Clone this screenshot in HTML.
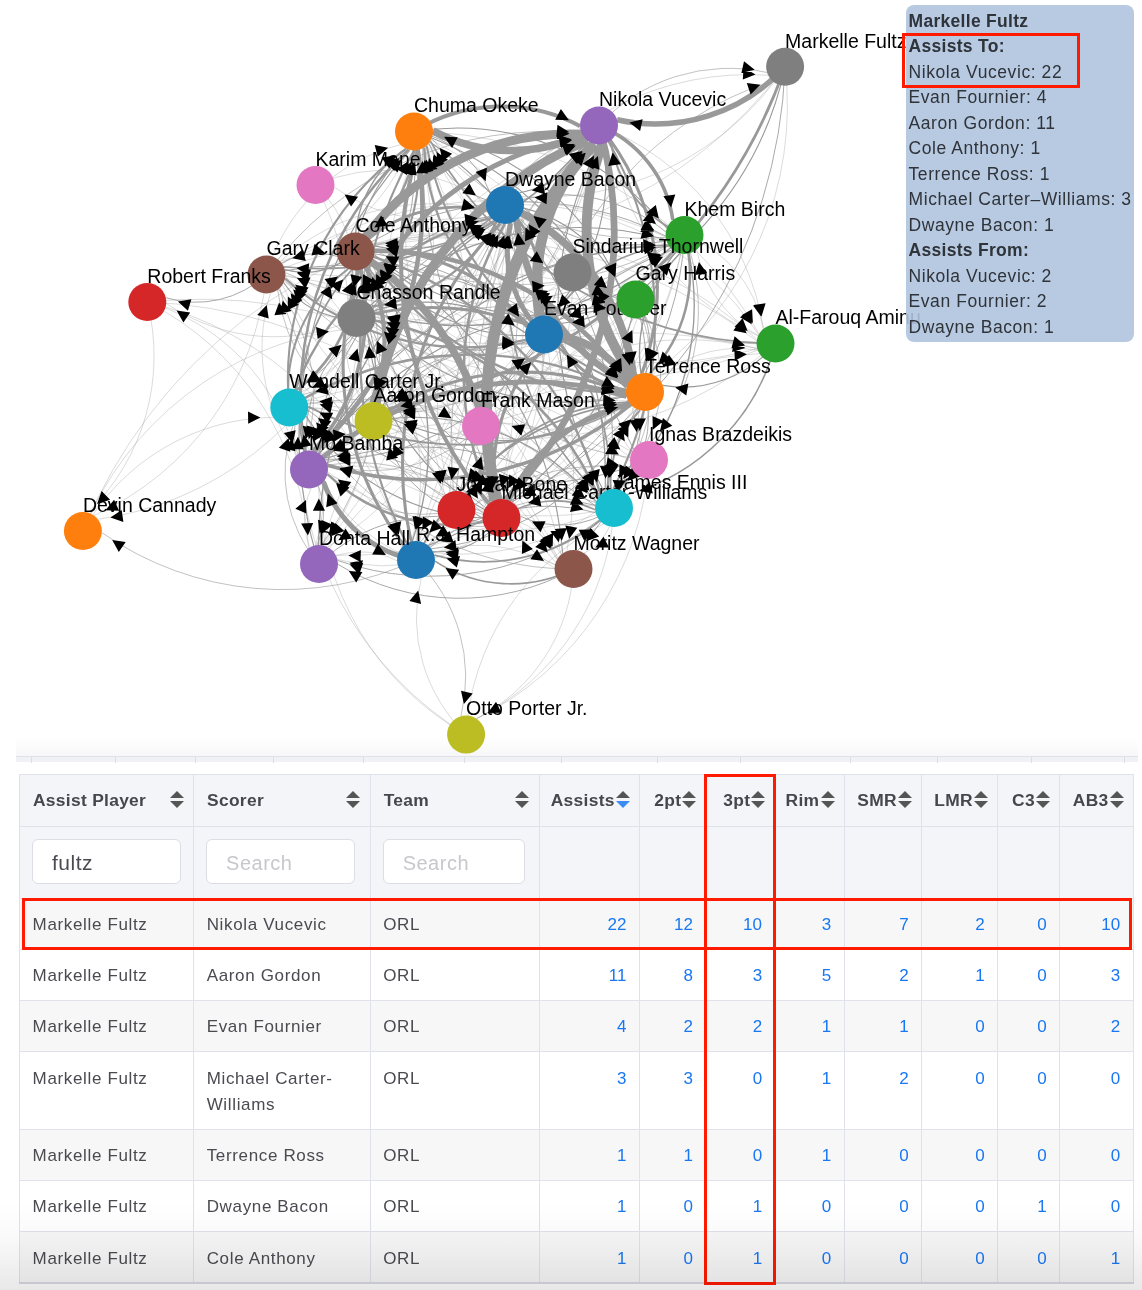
<!DOCTYPE html>
<html lang="en">
<head>
<meta charset="utf-8">
<title>Assist Network</title>
<style>
html,body{margin:0;padding:0;background:#fff;}
body{width:1142px;height:1290px;position:relative;overflow:hidden;font-family:"Liberation Sans",sans-serif;}
#graph{position:absolute;left:0;top:0;width:1142px;height:772px;overflow:hidden;}
#graph text{font-family:"Liberation Sans",sans-serif;font-size:19.5px;fill:#000;}
.lk{fill:none;stroke:#999;}
.ar{fill:#000;}
#tip{position:absolute;left:906px;top:5px;width:228px;height:337px;box-sizing:border-box;background:rgba(176,196,222,0.9);border-radius:8px;padding:3.8px 0 0 2.5px;font-size:17.5px;line-height:25.5px;color:#2f333a;letter-spacing:0.58px;white-space:nowrap;}
#tip b{letter-spacing:0.3px;font-weight:700;}
#tip div{height:25.5px;}
.red{position:absolute;border:3px solid #ff1a00;box-sizing:border-box;pointer-events:none;}
#strip{position:absolute;left:16px;top:738px;width:1122px;height:24px;background:linear-gradient(#fff 0,#f7f7f9 17.5px,#e1e2e8 17.5px,#e1e2e8 18.5px,#f0f1f5 18.5px);}
#strip i{position:absolute;margin-left:-1px;top:18.5px;width:1px;height:6px;background:#dcdde5;}
table{position:absolute;left:19px;top:774px;border-collapse:collapse;table-layout:fixed;width:1115px;font-size:17px;color:#4a4a50;letter-spacing:0.65px;}
td,th{border:1px solid #dfe2ea;padding:0;box-sizing:border-box;overflow:hidden;}
th{background:#f3f5f9;height:52px;font-weight:700;font-size:17.4px;letter-spacing:0.3px;color:#46464c;text-align:left;position:relative;padding-left:13px;}
th.n{text-align:right;padding-right:24.5px;padding-left:0;}
tr.f td{background:#f3f5f9;height:71.5px;padding-left:13px;}
tr.r td{padding:13.4px 0 10.9px 12.6px;vertical-align:top;line-height:26px;}
tr.r td.n{text-align:right;padding-right:12.5px;padding-left:0;letter-spacing:0.2px;color:#1877f2;}
tr.o td{background:#f7f7f8;}
tbody tr:last-child td{border-bottom:2px solid #d8d9e1;}
.si{position:absolute;right:9.3px;top:16px;width:14px;height:17px;}
.inp{position:relative;left:-1px;top:-1px;width:149px;height:45px;box-sizing:border-box;border:1px solid #dcdde5;border-radius:6px;background:#fff;font-size:21px;line-height:46px;padding-left:19px;color:#4a4a50;letter-spacing:0.5px;}
.inp.p{color:#c8c8cc;font-size:20px;}
#shade{position:absolute;left:0;top:1200px;width:1142px;height:90px;background:linear-gradient(rgba(0,0,0,0),rgba(0,0,0,0.02) 40%,rgba(0,0,0,0.09));pointer-events:none;}
</style>
</head>
<body>
<div id="strip"><i style="left:16px"></i><i style="left:100px"></i><i style="left:180px"></i><i style="left:258px"></i><i style="left:348px"></i><i style="left:449px"></i><i style="left:546px"></i><i style="left:642px"></i><i style="left:725px"></i><i style="left:835px"></i><i style="left:922px"></i><i style="left:1016px"></i><i style="left:1109px"></i></div>
<svg id="graph" width="1142" height="772" viewBox="0 0 1142 772">
<g>
<path class="lk" d="M373.5,421.0A352.7,352.7 0 0,1 587.5,140.6" stroke-width="8.94"/>
<path class="lk" d="M645.0,392.0A251.4,251.4 0 0,1 602.2,144.2" stroke-width="9.92"/>
<path class="lk" d="M355.5,251.5A255.2,255.2 0 0,1 582.1,134.2" stroke-width="8.94"/>
<path class="lk" d="M414.0,131.5A166.1,166.1 0 0,1 580.0,126.1" stroke-width="4.04"/>
<path class="lk" d="M684.5,235.0A119.9,119.9 0 0,1 610.7,140.5" stroke-width="1.83"/>
<path class="lk" d="M544.0,334.5A197.1,197.1 0 0,1 594.2,143.9" stroke-width="10.41"/>
<path class="lk" d="M614.0,508.0A363.8,363.8 0 0,1 599.7,144.5" stroke-width="1.10"/>
<path class="lk" d="M501.5,518.0A385.4,385.4 0 0,1 594.4,143.9" stroke-width="11.39"/>
<path class="lk" d="M505.0,205.0A104.1,104.1 0 0,1 584.5,137.8" stroke-width="0.61"/>
<path class="lk" d="M456.5,510.0A391.1,391.1 0 0,1 592.4,143.3" stroke-width="0.61"/>
<path class="lk" d="M481.0,426.0A303.8,303.8 0 0,1 592.1,143.2" stroke-width="0.61"/>
<path class="lk" d="M266.5,274.5A345.4,345.4 0 0,1 581.7,133.3" stroke-width="0.61"/>
<path class="lk" d="M309.0,469.5A430.9,430.9 0 0,1 586.8,140.0" stroke-width="0.36"/>
<path class="lk" d="M775.5,343.5A261.5,261.5 0 0,1 611.0,140.3" stroke-width="0.36"/>
<path class="lk" d="M356.5,318.0A290.6,290.6 0 0,1 584.1,137.3" stroke-width="5.02"/>
<path class="lk" d="M645.0,392.0A97.2,97.2 0 0,1 560.5,343.9" stroke-width="3.06"/>
<path class="lk" d="M501.5,518.0A169.4,169.4 0 0,1 539.7,353.0" stroke-width="3.06"/>
<path class="lk" d="M355.5,251.5A187.0,187.0 0 0,1 526.6,326.8" stroke-width="3.06"/>
<path class="lk" d="M505.0,205.0A116.2,116.2 0 0,1 538.5,316.3" stroke-width="2.81"/>
<path class="lk" d="M356.5,318.0A169.2,169.2 0 0,1 525.1,332.8" stroke-width="1.35"/>
<path class="lk" d="M599.0,125.5A197.1,197.1 0 0,1 548.8,316.1" stroke-width="1.10"/>
<path class="lk" d="M684.5,235.0A153.2,153.2 0 0,1 559.5,323.5" stroke-width="1.10"/>
<path class="lk" d="M373.5,421.0A172.2,172.2 0 0,1 527.1,343.1" stroke-width="0.85"/>
<path class="lk" d="M355.5,251.5A151.5,151.5 0 0,1 371.5,402.1" stroke-width="4.29"/>
<path class="lk" d="M645.0,392.0A254.0,254.0 0 0,1 392.4,419.0" stroke-width="1.35"/>
<path class="lk" d="M356.5,318.0A85.4,85.4 0 0,1 370.4,402.3" stroke-width="1.35"/>
<path class="lk" d="M309.0,469.5A61.7,61.7 0 0,1 358.3,432.4" stroke-width="1.10"/>
<path class="lk" d="M456.5,510.0A102.7,102.7 0 0,1 386.5,434.9" stroke-width="0.85"/>
<path class="lk" d="M501.5,518.0A141.6,141.6 0 0,1 388.6,432.5" stroke-width="0.61"/>
<path class="lk" d="M505.0,205.0A233.9,233.9 0 0,1 383.4,404.8" stroke-width="0.61"/>
<path class="lk" d="M544.0,334.5A172.2,172.2 0 0,1 390.4,412.4" stroke-width="0.61"/>
<path class="lk" d="M645.0,392.0A302.8,302.8 0 0,1 372.6,259.8" stroke-width="2.33"/>
<path class="lk" d="M414.0,131.5A114.5,114.5 0 0,1 363.8,234.4" stroke-width="2.33"/>
<path class="lk" d="M505.0,205.0A137.6,137.6 0 0,1 373.6,245.9" stroke-width="1.35"/>
<path class="lk" d="M544.0,334.5A187.0,187.0 0 0,1 372.9,259.2" stroke-width="1.10"/>
<path class="lk" d="M635.5,299.5A265.1,265.1 0 0,1 374.2,254.7" stroke-width="1.10"/>
<path class="lk" d="M501.5,518.0A284.9,284.9 0 0,1 364.6,268.2" stroke-width="0.85"/>
<path class="lk" d="M266.5,274.5A72.9,72.9 0 0,1 337.1,256.3" stroke-width="0.85"/>
<path class="lk" d="M309.0,469.5A203.9,203.9 0 0,1 351.5,270.1" stroke-width="1.59"/>
<path class="lk" d="M416.0,560.0A295.4,295.4 0 0,1 359.2,270.1" stroke-width="3.06"/>
<path class="lk" d="M684.5,235.0A310.4,310.4 0 0,1 374.5,250.5" stroke-width="0.61"/>
<path class="lk" d="M614.0,508.0A345.2,345.2 0 0,1 369.0,264.9" stroke-width="0.61"/>
<path class="lk" d="M649.0,460.0A341.0,341.0 0 0,1 371.0,262.5" stroke-width="0.61"/>
<path class="lk" d="M775.5,343.5A411.0,411.0 0 0,1 374.1,255.6" stroke-width="0.36"/>
<path class="lk" d="M481.0,426.0A195.9,195.9 0 0,1 366.6,266.9" stroke-width="0.36"/>
<path class="lk" d="M373.5,421.0A151.5,151.5 0 0,1 357.5,270.4" stroke-width="0.36"/>
<path class="lk" d="M599.0,125.5A255.2,255.2 0 0,1 372.4,242.8" stroke-width="0.36"/>
<path class="lk" d="M355.5,251.5A284.9,284.9 0 0,1 492.4,501.3" stroke-width="7.47"/>
<path class="lk" d="M599.0,125.5A385.4,385.4 0 0,1 506.1,499.6" stroke-width="6.74"/>
<path class="lk" d="M684.5,235.0A318.0,318.0 0 0,1 511.8,502.0" stroke-width="0.85"/>
<path class="lk" d="M614.0,508.0A93.9,93.9 0 0,1 520.4,516.3" stroke-width="0.85"/>
<path class="lk" d="M573.5,569.0A69.2,69.2 0 0,1 517.0,529.0" stroke-width="0.61"/>
<path class="lk" d="M356.5,318.0A228.0,228.0 0 0,1 490.3,502.6" stroke-width="0.61"/>
<path class="lk" d="M645.0,392.0A172.0,172.0 0 0,1 515.8,505.5" stroke-width="0.61"/>
<path class="lk" d="M373.5,421.0A141.6,141.6 0 0,1 486.4,506.5" stroke-width="0.61"/>
<path class="lk" d="M505.0,205.0A294.0,294.0 0 0,1 501.7,499.0" stroke-width="0.36"/>
<path class="lk" d="M414.0,131.5A377.3,377.3 0 0,1 497.3,499.5" stroke-width="0.36"/>
<path class="lk" d="M289.3,407.5A220.2,220.2 0 0,1 484.6,509.2" stroke-width="0.36"/>
<path class="lk" d="M544.0,334.5A169.4,169.4 0 0,1 505.8,499.5" stroke-width="0.36"/>
<path class="lk" d="M505.0,205.0A214.6,214.6 0 0,1 633.6,376.8" stroke-width="7.47"/>
<path class="lk" d="M309.0,469.5A325.8,325.8 0 0,1 626.5,396.3" stroke-width="5.02"/>
<path class="lk" d="M356.5,318.0A278.8,278.8 0 0,1 626.6,387.3" stroke-width="3.06"/>
<path class="lk" d="M373.5,421.0A254.0,254.0 0 0,1 626.1,394.0" stroke-width="3.06"/>
<path class="lk" d="M544.0,334.5A97.2,97.2 0 0,1 628.5,382.6" stroke-width="7.47"/>
<path class="lk" d="M684.5,235.0A142.9,142.9 0 0,1 649.6,373.6" stroke-width="2.57"/>
<path class="lk" d="M456.5,510.0A203.4,203.4 0 0,1 628.9,402.1" stroke-width="1.83"/>
<path class="lk" d="M614.0,508.0A101.1,101.1 0 0,1 640.1,410.4" stroke-width="1.83"/>
<path class="lk" d="M416.0,560.0A265.0,265.0 0 0,1 629.7,403.2" stroke-width="1.83"/>
<path class="lk" d="M355.5,251.5A302.8,302.8 0 0,1 627.9,383.7" stroke-width="4.53"/>
<path class="lk" d="M599.0,125.5A251.4,251.4 0 0,1 641.8,373.3" stroke-width="3.06"/>
<path class="lk" d="M775.5,343.5A120.2,120.2 0 0,1 662.8,385.4" stroke-width="1.10"/>
<path class="lk" d="M414.0,131.5A329.2,329.2 0 0,1 632.4,377.8" stroke-width="1.10"/>
<path class="lk" d="M501.5,518.0A172.0,172.0 0 0,1 630.7,404.5" stroke-width="5.02"/>
<path class="lk" d="M635.5,299.5A74.0,74.0 0 0,1 643.1,373.1" stroke-width="0.85"/>
<path class="lk" d="M266.5,274.5A377.3,377.3 0 0,1 626.9,386.4" stroke-width="0.85"/>
<path class="lk" d="M481.0,426.0A148.5,148.5 0 0,1 626.4,395.9" stroke-width="0.36"/>
<path class="lk" d="M319.0,564.0A349.6,349.6 0 0,1 628.2,400.9" stroke-width="0.36"/>
<path class="lk" d="M645.0,392.0A214.6,214.6 0 0,1 516.4,220.2" stroke-width="6.74"/>
<path class="lk" d="M544.0,334.5A116.2,116.2 0 0,1 510.5,223.2" stroke-width="5.02"/>
<path class="lk" d="M355.5,251.5A137.6,137.6 0 0,1 486.9,210.6" stroke-width="2.81"/>
<path class="lk" d="M501.5,518.0A294.0,294.0 0 0,1 504.8,224.0" stroke-width="2.57"/>
<path class="lk" d="M614.0,508.0A303.0,303.0 0 0,1 511.4,222.9" stroke-width="1.59"/>
<path class="lk" d="M373.5,421.0A233.9,233.9 0 0,1 495.1,221.2" stroke-width="1.35"/>
<path class="lk" d="M599.0,125.5A104.1,104.1 0 0,1 519.5,192.7" stroke-width="1.10"/>
<path class="lk" d="M309.0,469.5A310.2,310.2 0 0,1 493.7,220.3" stroke-width="0.85"/>
<path class="lk" d="M684.5,235.0A163.0,163.0 0 0,1 523.7,208.1" stroke-width="0.85"/>
<path class="lk" d="M414.0,131.5A98.0,98.0 0 0,1 490.2,193.1" stroke-width="0.85"/>
<path class="lk" d="M356.5,318.0A167.6,167.6 0 0,1 489.9,216.5" stroke-width="0.85"/>
<path class="lk" d="M416.0,560.0A347.0,347.0 0 0,1 500.4,223.4" stroke-width="3.06"/>
<path class="lk" d="M573.5,569.0A351.4,351.4 0 0,1 508.5,223.7" stroke-width="0.36"/>
<path class="lk" d="M481.0,426.0A203.3,203.3 0 0,1 502.9,223.9" stroke-width="0.36"/>
<path class="lk" d="M775.5,343.5A284.9,284.9 0 0,1 521.9,213.7" stroke-width="0.36"/>
<path class="lk" d="M635.5,299.5A142.1,142.1 0 0,1 520.4,216.1" stroke-width="0.36"/>
<path class="lk" d="M456.5,510.0A289.8,289.8 0 0,1 502.0,223.8" stroke-width="0.36"/>
<path class="lk" d="M266.5,274.5A229.4,229.4 0 0,1 486.8,210.3" stroke-width="0.36"/>
<path class="lk" d="M289.3,407.5A276.9,276.9 0 0,1 491.1,218.0" stroke-width="2.33"/>
<path class="lk" d="M319.0,564.0A385.3,385.3 0 0,1 496.3,221.9" stroke-width="1.35"/>
<path class="lk" d="M599.0,125.5A166.1,166.1 0 0,1 433.0,130.9" stroke-width="7.47"/>
<path class="lk" d="M501.5,518.0A377.3,377.3 0 0,1 418.2,150.0" stroke-width="4.04"/>
<path class="lk" d="M544.0,334.5A222.1,222.1 0 0,1 424.2,147.5" stroke-width="2.33"/>
<path class="lk" d="M645.0,392.0A329.2,329.2 0 0,1 426.6,145.7" stroke-width="2.08"/>
<path class="lk" d="M775.5,343.5A400.1,400.1 0 0,1 430.4,141.1" stroke-width="1.83"/>
<path class="lk" d="M355.5,251.5A114.5,114.5 0 0,1 405.7,148.6" stroke-width="1.35"/>
<path class="lk" d="M356.5,318.0A176.2,176.2 0 0,1 408.4,149.7" stroke-width="1.10"/>
<path class="lk" d="M614.0,508.0A407.3,407.3 0 0,1 422.9,148.3" stroke-width="0.85"/>
<path class="lk" d="M319.0,564.0A423.8,423.8 0 0,1 409.9,150.1" stroke-width="1.10"/>
<path class="lk" d="M505.0,205.0A98.0,98.0 0 0,1 428.8,143.4" stroke-width="0.85"/>
<path class="lk" d="M309.0,469.5A334.9,334.9 0 0,1 408.4,149.6" stroke-width="2.57"/>
<path class="lk" d="M684.5,235.0A270.6,270.6 0 0,1 431.7,138.3" stroke-width="0.61"/>
<path class="lk" d="M416.0,560.0A409.5,409.5 0 0,1 414.1,150.5" stroke-width="2.33"/>
<path class="lk" d="M635.5,299.5A259.0,259.0 0 0,1 429.1,143.0" stroke-width="0.36"/>
<path class="lk" d="M456.5,510.0A361.9,361.9 0 0,1 416.1,150.4" stroke-width="0.36"/>
<path class="lk" d="M599.0,125.5A119.9,119.9 0 0,1 672.8,220.0" stroke-width="3.55"/>
<path class="lk" d="M544.0,334.5A153.2,153.2 0 0,1 669.0,246.0" stroke-width="1.59"/>
<path class="lk" d="M645.0,392.0A142.9,142.9 0 0,1 679.9,253.4" stroke-width="1.35"/>
<path class="lk" d="M373.5,421.0A343.4,343.4 0 0,1 668.2,244.8" stroke-width="1.10"/>
<path class="lk" d="M414.0,131.5A270.6,270.6 0 0,1 666.8,228.2" stroke-width="1.10"/>
<path class="lk" d="M356.5,318.0A319.3,319.3 0 0,1 666.1,239.7" stroke-width="1.10"/>
<path class="lk" d="M309.0,469.5A423.7,423.7 0 0,1 668.4,245.1" stroke-width="1.10"/>
<path class="lk" d="M505.0,205.0A163.0,163.0 0 0,1 665.8,231.9" stroke-width="0.85"/>
<path class="lk" d="M355.5,251.5A310.4,310.4 0 0,1 665.5,236.0" stroke-width="0.85"/>
<path class="lk" d="M614.0,508.0A263.0,263.0 0 0,1 679.7,253.4" stroke-width="0.61"/>
<path class="lk" d="M501.5,518.0A318.0,318.0 0 0,1 674.2,251.0" stroke-width="0.36"/>
<path class="lk" d="M635.5,299.5A62.0,62.0 0 0,1 673.0,250.1" stroke-width="0.36"/>
<path class="lk" d="M775.5,343.5A122.6,122.6 0 0,1 696.7,249.6" stroke-width="0.36"/>
<path class="lk" d="M356.5,318.0A301.0,301.0 0 0,1 598.7,496.7" stroke-width="2.57"/>
<path class="lk" d="M355.5,251.5A345.2,345.2 0 0,1 600.5,494.6" stroke-width="2.33"/>
<path class="lk" d="M599.0,125.5A363.8,363.8 0 0,1 613.3,489.0" stroke-width="2.08"/>
<path class="lk" d="M775.5,343.5A211.5,211.5 0 0,1 627.3,494.4" stroke-width="1.59"/>
<path class="lk" d="M501.5,518.0A93.9,93.9 0 0,1 595.1,509.7" stroke-width="1.59"/>
<path class="lk" d="M544.0,334.5A168.1,168.1 0 0,1 606.9,490.4" stroke-width="1.59"/>
<path class="lk" d="M414.0,131.5A407.3,407.3 0 0,1 605.1,491.2" stroke-width="1.10"/>
<path class="lk" d="M373.5,421.0A236.8,236.8 0 0,1 596.1,501.5" stroke-width="1.10"/>
<path class="lk" d="M684.5,235.0A263.0,263.0 0 0,1 618.8,489.6" stroke-width="1.35"/>
<path class="lk" d="M645.0,392.0A101.1,101.1 0 0,1 618.9,489.6" stroke-width="0.85"/>
<path class="lk" d="M505.0,205.0A303.0,303.0 0 0,1 607.6,490.1" stroke-width="0.85"/>
<path class="lk" d="M416.0,560.0A185.7,185.7 0 0,1 595.6,512.8" stroke-width="0.85"/>
<path class="lk" d="M309.0,469.5A288.4,288.4 0 0,1 595.1,505.6" stroke-width="0.85"/>
<path class="lk" d="M635.5,299.5A190.6,190.6 0 0,1 615.9,489.1" stroke-width="0.61"/>
<path class="lk" d="M289.3,407.5A320.9,320.9 0 0,1 595.8,502.4" stroke-width="0.61"/>
<path class="lk" d="M266.5,274.5A399.7,399.7 0 0,1 598.2,497.4" stroke-width="0.36"/>
<path class="lk" d="M414.0,131.5A334.9,334.9 0 0,1 314.6,451.4" stroke-width="4.53"/>
<path class="lk" d="M355.5,251.5A203.9,203.9 0 0,1 313.0,450.9" stroke-width="3.55"/>
<path class="lk" d="M501.5,518.0A179.5,179.5 0 0,1 327.4,474.1" stroke-width="2.33"/>
<path class="lk" d="M416.0,560.0A121.1,121.1 0 0,1 323.5,481.8" stroke-width="5.02"/>
<path class="lk" d="M373.5,421.0A61.7,61.7 0 0,1 324.2,458.1" stroke-width="1.10"/>
<path class="lk" d="M544.0,334.5A252.0,252.0 0 0,1 325.5,460.0" stroke-width="0.85"/>
<path class="lk" d="M356.5,318.0A139.8,139.8 0 0,1 314.7,451.4" stroke-width="0.85"/>
<path class="lk" d="M456.5,510.0A134.0,134.0 0 0,1 327.3,474.5" stroke-width="0.61"/>
<path class="lk" d="M599.0,125.5A430.9,430.9 0 0,1 321.2,455.0" stroke-width="0.61"/>
<path class="lk" d="M266.5,274.5A180.6,180.6 0 0,1 305.0,450.9" stroke-width="0.61"/>
<path class="lk" d="M289.3,407.5A46.1,46.1 0 0,1 303.2,451.4" stroke-width="0.61"/>
<path class="lk" d="M481.0,426.0A158.4,158.4 0 0,1 327.4,464.8" stroke-width="0.61"/>
<path class="lk" d="M505.0,205.0A310.2,310.2 0 0,1 320.3,454.2" stroke-width="0.36"/>
<path class="lk" d="M614.0,508.0A288.4,288.4 0 0,1 327.9,471.9" stroke-width="0.36"/>
<path class="lk" d="M645.0,392.0A325.8,325.8 0 0,1 327.5,465.2" stroke-width="3.55"/>
<path class="lk" d="M684.5,235.0A423.7,423.7 0 0,1 325.1,459.4" stroke-width="0.36"/>
<path class="lk" d="M505.0,205.0A167.6,167.6 0 0,1 371.6,306.5" stroke-width="2.33"/>
<path class="lk" d="M414.0,131.5A176.2,176.2 0 0,1 362.1,299.8" stroke-width="2.08"/>
<path class="lk" d="M355.5,251.5A47.5,47.5 0 0,1 356.2,299.0" stroke-width="1.59"/>
<path class="lk" d="M684.5,235.0A319.3,319.3 0 0,1 374.9,313.3" stroke-width="1.35"/>
<path class="lk" d="M501.5,518.0A228.0,228.0 0 0,1 367.7,333.4" stroke-width="1.10"/>
<path class="lk" d="M645.0,392.0A278.8,278.8 0 0,1 374.9,322.7" stroke-width="1.10"/>
<path class="lk" d="M544.0,334.5A169.2,169.2 0 0,1 375.4,319.7" stroke-width="0.85"/>
<path class="lk" d="M309.0,469.5A139.8,139.8 0 0,1 350.8,336.1" stroke-width="0.85"/>
<path class="lk" d="M614.0,508.0A301.0,301.0 0 0,1 371.8,329.3" stroke-width="0.85"/>
<path class="lk" d="M416.0,560.0A230.2,230.2 0 0,1 361.0,336.5" stroke-width="0.36"/>
<path class="lk" d="M572.5,272.5A201.7,201.7 0 0,1 375.1,314.1" stroke-width="0.36"/>
<path class="lk" d="M266.5,274.5A81.0,81.0 0 0,1 339.4,309.7" stroke-width="0.36"/>
<path class="lk" d="M544.0,334.5A264.9,264.9 0 0,1 285.1,278.5" stroke-width="2.33"/>
<path class="lk" d="M599.0,125.5A345.4,345.4 0 0,1 283.8,266.7" stroke-width="1.59"/>
<path class="lk" d="M355.5,251.5A72.9,72.9 0 0,1 284.9,269.7" stroke-width="1.35"/>
<path class="lk" d="M356.5,318.0A81.0,81.0 0 0,1 283.6,282.8" stroke-width="1.10"/>
<path class="lk" d="M501.5,518.0A319.4,319.4 0 0,1 279.7,288.2" stroke-width="0.61"/>
<path class="lk" d="M645.0,392.0A377.3,377.3 0 0,1 284.6,280.1" stroke-width="0.61"/>
<path class="lk" d="M684.5,235.0A400.9,400.9 0 0,1 285.4,272.7" stroke-width="0.61"/>
<path class="lk" d="M373.5,421.0A162.4,162.4 0 0,1 277.7,289.8" stroke-width="0.61"/>
<path class="lk" d="M614.0,508.0A399.7,399.7 0 0,1 282.3,285.1" stroke-width="0.36"/>
<path class="lk" d="M775.5,343.5A494.7,494.7 0 0,1 285.3,277.1" stroke-width="0.36"/>
<path class="lk" d="M414.0,131.5A186.4,186.4 0 0,1 280.1,261.3" stroke-width="0.36"/>
<path class="lk" d="M309.0,469.5A180.6,180.6 0 0,1 270.5,293.1" stroke-width="0.36"/>
<path class="lk" d="M505.0,205.0A229.4,229.4 0 0,1 284.7,269.2" stroke-width="0.36"/>
<path class="lk" d="M355.5,251.5A295.4,295.4 0 0,1 412.3,541.4" stroke-width="1.35"/>
<path class="lk" d="M501.5,518.0A76.3,76.3 0 0,1 433.1,551.6" stroke-width="1.10"/>
<path class="lk" d="M635.5,299.5A321.6,321.6 0 0,1 428.2,545.5" stroke-width="1.10"/>
<path class="lk" d="M645.0,392.0A265.0,265.0 0 0,1 431.3,548.8" stroke-width="0.85"/>
<path class="lk" d="M505.0,205.0A347.0,347.0 0 0,1 420.6,541.6" stroke-width="0.61"/>
<path class="lk" d="M614.0,508.0A185.7,185.7 0 0,1 434.4,555.2" stroke-width="1.83"/>
<path class="lk" d="M414.0,131.5A409.5,409.5 0 0,1 415.9,541.0" stroke-width="0.36"/>
<path class="lk" d="M319.0,564.0A78.1,78.1 0 0,1 397.0,560.8" stroke-width="0.36"/>
<path class="lk" d="M356.5,318.0A230.2,230.2 0 0,1 411.5,541.5" stroke-width="0.36"/>
<path class="lk" d="M572.5,272.5A308.3,308.3 0 0,1 425.1,543.3" stroke-width="0.36"/>
<path class="lk" d="M649.0,460.0A234.6,234.6 0 0,1 433.5,552.5" stroke-width="0.36"/>
<path class="lk" d="M309.0,469.5A121.1,121.1 0 0,1 401.5,547.7" stroke-width="0.36"/>
<path class="lk" d="M684.5,235.0A402.6,402.6 0 0,1 428.1,545.4" stroke-width="0.36"/>
<path class="lk" d="M645.0,392.0A337.0,337.0 0 0,1 308.3,406.7" stroke-width="2.08"/>
<path class="lk" d="M501.5,518.0A220.2,220.2 0 0,1 306.2,416.3" stroke-width="1.10"/>
<path class="lk" d="M649.0,460.0A344.5,344.5 0 0,1 308.1,410.2" stroke-width="0.85"/>
<path class="lk" d="M414.0,131.5A283.9,283.9 0 0,1 297.1,390.2" stroke-width="0.85"/>
<path class="lk" d="M309.0,469.5A46.1,46.1 0 0,1 295.1,425.6" stroke-width="0.61"/>
<path class="lk" d="M505.0,205.0A276.9,276.9 0 0,1 303.2,394.5" stroke-width="0.61"/>
<path class="lk" d="M573.5,569.0A307.9,307.9 0 0,1 305.8,416.9" stroke-width="0.61"/>
<path class="lk" d="M355.5,251.5A150.5,150.5 0 0,1 296.7,390.0" stroke-width="2.57"/>
<path class="lk" d="M684.5,235.0A412.2,412.2 0 0,1 306.7,399.9" stroke-width="0.36"/>
<path class="lk" d="M635.5,299.5A343.7,343.7 0 0,1 307.4,401.8" stroke-width="0.36"/>
<path class="lk" d="M416.0,560.0A179.3,179.3 0 0,1 301.4,422.1" stroke-width="0.36"/>
<path class="lk" d="M356.5,318.0A92.9,92.9 0 0,1 300.7,392.3" stroke-width="0.36"/>
<path class="lk" d="M614.0,508.0A320.9,320.9 0 0,1 307.5,413.1" stroke-width="0.36"/>
<path class="lk" d="M414.0,131.5A259.0,259.0 0 0,1 620.4,288.0" stroke-width="1.10"/>
<path class="lk" d="M505.0,205.0A142.1,142.1 0 0,1 620.1,288.4" stroke-width="1.10"/>
<path class="lk" d="M309.0,469.5A349.1,349.1 0 0,1 618.6,308.3" stroke-width="1.10"/>
<path class="lk" d="M645.0,392.0A74.0,74.0 0 0,1 637.4,318.4" stroke-width="0.36"/>
<path class="lk" d="M356.5,318.0A260.6,260.6 0 0,1 616.5,300.8" stroke-width="0.36"/>
<path class="lk" d="M289.3,407.5A343.7,343.7 0 0,1 617.4,305.2" stroke-width="0.36"/>
<path class="lk" d="M355.5,251.5A265.1,265.1 0 0,1 616.8,296.3" stroke-width="0.36"/>
<path class="lk" d="M355.5,251.5A366.1,366.1 0 0,1 562.7,553.3" stroke-width="1.10"/>
<path class="lk" d="M635.5,299.5A257.5,257.5 0 0,1 577.8,550.5" stroke-width="0.85"/>
<path class="lk" d="M289.3,407.5A307.9,307.9 0 0,1 557.0,559.6" stroke-width="0.36"/>
<path class="lk" d="M356.5,318.0A312.8,312.8 0 0,1 561.1,554.6" stroke-width="0.36"/>
<path class="lk" d="M414.0,131.5A446.7,446.7 0 0,1 567.0,551.1" stroke-width="0.36"/>
<path class="lk" d="M501.5,518.0A69.2,69.2 0 0,1 558.0,558.0" stroke-width="0.36"/>
<path class="lk" d="M416.0,560.0A138.8,138.8 0 0,1 554.5,567.9" stroke-width="0.36"/>
<path class="lk" d="M614.0,508.0A54.2,54.2 0 0,1 584.0,553.2" stroke-width="0.36"/>
<path class="lk" d="M309.0,469.5A76.0,76.0 0 0,1 317.0,545.1" stroke-width="0.61"/>
<path class="lk" d="M355.5,251.5A295.6,295.6 0 0,1 321.2,545.1" stroke-width="0.61"/>
<path class="lk" d="M289.3,407.5A140.3,140.3 0 0,1 315.5,545.3" stroke-width="0.36"/>
<path class="lk" d="M501.5,518.0A169.2,169.2 0 0,1 337.4,559.4" stroke-width="0.36"/>
<path class="lk" d="M414.0,131.5A423.8,423.8 0 0,1 323.1,545.4" stroke-width="0.36"/>
<path class="lk" d="M505.0,205.0A385.3,385.3 0 0,1 327.7,547.1" stroke-width="0.36"/>
<path class="lk" d="M614.0,508.0A281.3,281.3 0 0,1 337.7,560.5" stroke-width="0.85"/>
<path class="lk" d="M356.5,318.0A229.8,229.8 0 0,1 321.9,545.2" stroke-width="0.36"/>
<path class="lk" d="M355.5,251.5A341.0,341.0 0 0,1 633.5,449.0" stroke-width="0.85"/>
<path class="lk" d="M416.0,560.0A234.6,234.6 0 0,1 631.5,467.5" stroke-width="0.61"/>
<path class="lk" d="M635.5,299.5A142.1,142.1 0 0,1 647.4,441.1" stroke-width="0.61"/>
<path class="lk" d="M505.0,205.0A273.8,273.8 0 0,1 639.7,443.5" stroke-width="0.36"/>
<path class="lk" d="M501.5,518.0A139.5,139.5 0 0,1 631.3,467.0" stroke-width="0.36"/>
<path class="lk" d="M414.0,131.5A384.9,384.9 0 0,1 637.9,444.5" stroke-width="0.36"/>
<path class="lk" d="M309.0,469.5A321.1,321.1 0 0,1 630.0,460.5" stroke-width="0.36"/>
<path class="lk" d="M356.5,318.0A306.1,306.1 0 0,1 631.9,451.7" stroke-width="0.36"/>
<path class="lk" d="M614.0,508.0A40.4,40.4 0 0,1 637.8,475.4" stroke-width="0.36"/>
<path class="lk" d="M289.3,407.5A344.5,344.5 0 0,1 630.2,457.3" stroke-width="0.36"/>
<path class="lk" d="M355.5,251.5A199.0,199.0 0 0,1 553.6,270.7" stroke-width="0.36"/>
<path class="lk" d="M319.0,564.0A367.3,367.3 0 0,1 560.0,286.8" stroke-width="0.36"/>
<path class="lk" d="M416.0,560.0A308.3,308.3 0 0,1 563.4,289.2" stroke-width="0.36"/>
<path class="lk" d="M309.0,469.5A310.0,310.0 0 0,1 557.3,283.9" stroke-width="0.36"/>
<path class="lk" d="M645.0,392.0A148.5,148.5 0 0,1 499.6,422.1" stroke-width="0.36"/>
<path class="lk" d="M501.5,518.0A75.3,75.3 0 0,1 485.1,444.5" stroke-width="0.36"/>
<path class="lk" d="M373.5,421.0A88.6,88.6 0 0,1 462.0,425.1" stroke-width="0.36"/>
<path class="lk" d="M501.5,518.0A26.7,26.7 0 0,1 475.2,513.3" stroke-width="1.10"/>
<path class="lk" d="M544.0,334.5A177.1,177.1 0 0,1 465.0,493.0" stroke-width="0.61"/>
<path class="lk" d="M266.5,274.5A283.6,283.6 0 0,1 444.6,495.2" stroke-width="0.36"/>
<path class="lk" d="M355.5,251.5A258.5,258.5 0 0,1 449.6,492.3" stroke-width="0.36"/>
<path class="lk" d="M373.5,421.0A102.7,102.7 0 0,1 443.5,496.1" stroke-width="0.36"/>
<path class="lk" d="M505.0,205.0A289.8,289.8 0 0,1 459.5,491.2" stroke-width="0.36"/>
<path class="lk" d="M481.0,426.0A68.5,68.5 0 0,1 461.8,491.8" stroke-width="0.36"/>
<path class="lk" d="M645.0,392.0A120.2,120.2 0 0,1 757.7,350.1" stroke-width="0.36"/>
<path class="lk" d="M414.0,131.5A400.1,400.1 0 0,1 759.1,333.9" stroke-width="0.36"/>
<path class="lk" d="M266.5,274.5A494.7,494.7 0 0,1 756.7,340.9" stroke-width="0.36"/>
<path class="lk" d="M481.0,426.0A286.8,286.8 0 0,1 757.2,348.6" stroke-width="0.36"/>
<path class="lk" d="M501.5,518.0A305.8,305.8 0 0,1 759.5,353.7" stroke-width="0.36"/>
<path class="lk" d="M599.0,125.5A261.5,261.5 0 0,1 763.5,328.7" stroke-width="0.36"/>
<path class="lk" d="M505.0,205.0A284.9,284.9 0 0,1 758.6,334.8" stroke-width="0.36"/>
<path class="lk" d="M355.5,251.5A411.0,411.0 0 0,1 756.9,339.4" stroke-width="0.36"/>
<path class="lk" d="M309.0,469.5A464.2,464.2 0 0,1 757.2,348.5" stroke-width="0.36"/>
<path class="lk" d="M599.0,125.5A352.7,352.7 0 0,1 385.0,405.9" stroke-width="0.36"/>
<path class="lk" d="M645.0,392.0A349.6,349.6 0 0,1 335.8,555.1" stroke-width="0.36"/>
<path class="lk" d="M684.5,235.0A343.4,343.4 0 0,1 389.8,411.2" stroke-width="0.36"/>
<path class="lk" d="M684.5,235.0A208.8,208.8 0 0,1 652.0,441.2" stroke-width="0.61"/>
<path class="lk" d="M684.5,235.0A338.2,338.2 0 0,1 468.6,495.4" stroke-width="0.36"/>
<path class="lk" d="M684.5,235.0A122.6,122.6 0 0,1 763.3,328.9" stroke-width="0.36"/>
<path class="lk" d="M309.0,469.5A252.0,252.0 0 0,1 527.5,344.0" stroke-width="0.61"/>
<path class="lk" d="M309.0,469.5A179.5,179.5 0 0,1 483.1,513.4" stroke-width="0.61"/>
<path class="lk" d="M309.0,469.5A263.6,263.6 0 0,1 555.7,562.3" stroke-width="0.36"/>
<path class="lk" d="M266.5,274.5A186.4,186.4 0 0,1 400.4,144.7" stroke-width="0.36"/>
<path class="lk" d="M266.5,274.5A400.9,400.9 0 0,1 665.6,236.8" stroke-width="0.36"/>
<path class="lk" d="M416.0,560.0A76.3,76.3 0 0,1 484.4,526.4" stroke-width="0.61"/>
<path class="lk" d="M416.0,560.0A402.6,402.6 0 0,1 672.4,249.6" stroke-width="0.36"/>
<path class="lk" d="M289.3,407.5A337.0,337.0 0 0,1 626.0,392.8" stroke-width="2.33"/>
<path class="lk" d="M635.5,299.5A260.6,260.6 0 0,1 375.5,316.7" stroke-width="0.36"/>
<path class="lk" d="M635.5,299.5A49.5,49.5 0 0,1 590.0,280.0" stroke-width="0.85"/>
<path class="lk" d="M573.5,569.0A138.8,138.8 0 0,1 435.0,561.1" stroke-width="1.59"/>
<path class="lk" d="M319.0,564.0A169.2,169.2 0 0,1 483.1,522.6" stroke-width="0.85"/>
<path class="lk" d="M319.0,564.0A76.0,76.0 0 0,1 311.0,488.4" stroke-width="0.36"/>
<path class="lk" d="M319.0,564.0A140.3,140.3 0 0,1 292.8,426.2" stroke-width="0.61"/>
<path class="lk" d="M649.0,460.0A384.9,384.9 0 0,1 425.1,147.0" stroke-width="0.36"/>
<path class="lk" d="M481.0,426.0A283.0,283.0 0 0,1 418.2,150.0" stroke-width="0.36"/>
<path class="lk" d="M456.5,510.0A177.1,177.1 0 0,1 535.5,351.5" stroke-width="0.85"/>
<path class="lk" d="M456.5,510.0A338.2,338.2 0 0,1 672.4,249.6" stroke-width="0.85"/>
<path class="lk" d="M775.5,343.5A390.4,390.4 0 0,1 392.2,417.4" stroke-width="0.36"/>
<path class="lk" d="M266.5,274.5A103.3,103.3 0 0,1 165.8,297.7" stroke-width="0.85"/>
<path class="lk" d="M356.5,318.0A190.8,190.8 0 0,1 166.2,303.4" stroke-width="0.36"/>
<path class="lk" d="M147.3,302.0A213.8,213.8 0 0,1 295.8,455.8" stroke-width="0.36"/>
<path class="lk" d="M147.3,302.0A294.2,294.2 0 0,1 308.6,548.1" stroke-width="0.36"/>
<path class="lk" d="M147.3,302.0A353.5,353.5 0 0,1 402.3,546.8" stroke-width="0.36"/>
<path class="lk" d="M147.3,302.0A218.9,218.9 0 0,1 88.0,512.7" stroke-width="0.36"/>
<path class="lk" d="M147.3,302.0A483.9,483.9 0 0,1 557.4,558.9" stroke-width="0.36"/>
<path class="lk" d="M147.3,302.0A491.1,491.1 0 0,1 596.6,500.3" stroke-width="0.36"/>
<path class="lk" d="M266.5,274.5A296.4,296.4 0 0,1 94.0,515.6" stroke-width="0.36"/>
<path class="lk" d="M356.5,318.0A327.7,327.7 0 0,1 97.9,519.3" stroke-width="0.36"/>
<path class="lk" d="M416.0,560.0A315.4,315.4 0 0,1 101.8,532.6" stroke-width="0.61"/>
<path class="lk" d="M82.9,531.0A221.5,221.5 0 0,1 273.0,417.3" stroke-width="0.36"/>
<path class="lk" d="M82.9,531.0A327.7,327.7 0 0,1 341.5,329.7" stroke-width="0.36"/>
<path class="lk" d="M82.9,531.0A514.3,514.3 0 0,1 490.0,216.6" stroke-width="0.36"/>
<path class="lk" d="M505.0,205.0A171.6,171.6 0 0,1 334.4,187.0" stroke-width="0.36"/>
<path class="lk" d="M315.5,185.0A171.6,171.6 0 0,1 486.1,203.0" stroke-width="0.36"/>
<path class="lk" d="M315.5,185.0A120.2,120.2 0 0,1 350.9,299.8" stroke-width="0.36"/>
<path class="lk" d="M315.5,185.0A265.6,265.6 0 0,1 309.4,450.5" stroke-width="0.36"/>
<path class="lk" d="M466.1,734.6A289.2,289.2 0 0,1 318.7,485.8" stroke-width="0.36"/>
<path class="lk" d="M466.1,734.6A162.6,162.6 0 0,1 421.2,578.3" stroke-width="0.36"/>
<path class="lk" d="M573.5,569.0A178.4,178.4 0 0,1 476.4,718.7" stroke-width="0.36"/>
<path class="lk" d="M614.0,508.0A251.6,251.6 0 0,1 476.5,718.7" stroke-width="0.36"/>
<path class="lk" d="M416.0,560.0A162.6,162.6 0 0,1 460.9,716.3" stroke-width="0.61"/>
<path class="lk" d="M649.0,460.0A310.9,310.9 0 0,1 476.6,718.8" stroke-width="0.36"/>
<path class="lk" d="M466.1,734.6A251.6,251.6 0 0,1 603.6,523.9" stroke-width="0.36"/>
<path class="lk" d="M466.1,734.6A352.8,352.8 0 0,1 298.3,424.2" stroke-width="0.36"/>
<path class="lk" d="M785.1,66.8A176.1,176.1 0 0,1 617.1,119.8" stroke-width="5.51"/>
<path class="lk" d="M599.0,125.5A176.1,176.1 0 0,1 767.0,72.5" stroke-width="0.61"/>
<path class="lk" d="M544.0,334.5A341.3,341.3 0 0,1 772.4,80.9" stroke-width="0.61"/>
<path class="lk" d="M505.0,205.0A293.3,293.3 0 0,1 768.1,75.2" stroke-width="0.36"/>
<path class="lk" d="M785.1,66.8A341.3,341.3 0 0,1 556.7,320.4" stroke-width="1.10"/>
<path class="lk" d="M785.1,66.8A524.0,524.0 0 0,1 387.9,408.6" stroke-width="2.81"/>
<path class="lk" d="M785.1,66.8A448.6,448.6 0 0,1 373.0,244.0" stroke-width="0.36"/>
<path class="lk" d="M785.1,66.8A335.1,335.1 0 0,1 652.5,374.6" stroke-width="0.36"/>
<path class="lk" d="M785.1,66.8A513.9,513.9 0 0,1 511.6,501.9" stroke-width="0.85"/>
<path class="lk" d="M785.1,66.8A293.3,293.3 0 0,1 522.0,196.6" stroke-width="0.36"/>
<path class="lk" d="M289.3,407.5A283.9,283.9 0 0,1 406.2,148.8" stroke-width="2.08"/>
<path class="lk" d="M289.3,407.5A150.5,150.5 0 0,1 348.1,269.0" stroke-width="2.08"/>
<path class="lk" d="M573.5,569.0A235.5,235.5 0 0,1 338.0,564.4" stroke-width="0.85"/>
</g>
<path class="ar" d="M575.8,145.5L566.8,155.8L562.2,144.6ZM597.9,156.0L599.3,169.7L588.0,165.5ZM569.5,133.7L557.0,139.1L557.5,127.0ZM568.9,120.2L555.2,119.7L560.9,109.0ZM612.4,153.0L620.1,164.3L608.2,166.0ZM585.3,152.8L580.9,165.8L572.3,157.3ZM593.9,155.6L593.5,169.3L582.8,163.7ZM585.7,153.0L581.5,166.1L572.8,157.7ZM572.1,140.0L561.1,148.1L558.9,136.2ZM582.7,151.4L577.1,163.9L569.4,154.6ZM582.2,151.0L576.4,163.4L568.8,154.0ZM569.1,132.0L556.3,136.7L557.5,124.7ZM574.9,144.3L565.4,154.2L561.3,142.8ZM612.9,152.7L620.8,163.9L608.9,165.8ZM571.7,139.2L560.4,147.0L558.6,135.0ZM566.9,354.8L578.3,362.3L567.9,368.4ZM531.1,362.2L527.1,375.3L518.3,367.1ZM519.2,316.7L507.0,310.3L516.8,303.2ZM541.4,304.0L538.3,290.7L550.1,293.5ZM514.8,325.6L501.2,323.5L508.2,313.6ZM557.7,307.2L562.1,294.2L570.7,302.7ZM572.1,322.4L583.7,315.2L584.9,327.2ZM514.5,342.4L501.9,347.8L502.5,335.7ZM376.6,390.6L376.1,376.9L387.1,381.8ZM403.9,424.1L417.6,423.5L412.7,434.6ZM374.8,390.5L373.5,376.8L384.8,381.1ZM345.8,433.9L334.3,441.4L332.9,429.4ZM389.3,447.2L398.0,457.8L386.2,460.5ZM393.5,444.1L403.9,453.1L392.7,457.8ZM394.4,398.7L402.3,387.5L408.1,398.1ZM403.0,413.1L415.6,407.7L415.0,419.8ZM379.7,270.2L391.6,277.0L381.5,283.8ZM374.3,227.4L381.1,215.5L387.9,225.5ZM385.9,248.6L399.3,245.4L396.6,257.2ZM380.3,269.3L392.5,275.7L382.7,282.8ZM383.9,262.8L397.2,266.0L389.5,275.3ZM364.3,280.8L370.1,293.2L358.0,292.9ZM325.0,252.9L311.5,255.4L314.7,243.8ZM343.1,279.4L339.4,292.6L330.4,284.5ZM355.1,282.1L356.8,295.7L345.4,291.7ZM385.7,256.3L399.4,256.5L393.9,267.3ZM372.3,277.0L381.4,287.3L369.7,290.5ZM376.2,274.0L386.9,282.6L375.9,287.7ZM383.4,264.1L396.5,267.9L388.4,276.8ZM367.9,279.5L375.1,291.1L363.1,292.3ZM352.4,281.9L352.9,295.6L341.9,290.7ZM385.0,243.3L397.5,237.9L397.0,250.0ZM492.7,488.7L486.9,476.3L499.0,476.6ZM514.8,490.5L519.0,477.4L527.7,485.8ZM523.0,496.3L531.2,485.3L536.7,496.1ZM531.9,521.6L545.6,521.3L540.5,532.3ZM522.3,540.4L532.9,549.1L521.9,554.1ZM489.0,490.1L481.8,478.5L493.8,477.2ZM528.1,503.0L539.0,494.7L541.4,506.5ZM481.5,494.9L471.1,485.9L482.3,481.2ZM508.1,488.2L509.2,474.5L519.6,480.7ZM501.0,487.4L498.9,473.9L510.5,477.5ZM477.9,498.6L466.2,491.5L476.4,485.0ZM514.4,490.3L518.4,477.2L527.2,485.4ZM632.1,364.3L624.6,352.8L636.7,351.3ZM614.4,392.6L600.9,394.8L604.4,383.2ZM617.6,378.5L604.6,374.2L613.0,365.5ZM614.6,388.9L600.9,389.5L605.8,378.4ZM622.1,371.7L610.7,364.2L621.1,358.1ZM658.4,364.5L662.6,351.5L671.3,359.9ZM616.3,402.5L604.2,409.0L603.8,396.9ZM631.2,419.3L626.8,432.2L618.2,423.7ZM617.2,404.6L605.6,412.0L604.3,399.9ZM620.8,373.3L608.9,366.5L619.0,359.7ZM646.1,361.5L644.7,347.8L656.0,352.0ZM675.2,387.5L688.4,383.6L686.3,395.5ZM629.9,365.4L621.5,354.6L633.3,352.2ZM618.4,407.0L607.5,415.3L605.1,403.5ZM648.2,361.6L647.7,347.9L658.8,352.9ZM618.3,377.1L605.5,372.2L614.4,364.0ZM614.4,391.9L600.9,393.8L604.7,382.3ZM615.6,400.4L603.1,406.0L603.5,393.9ZM517.9,232.7L525.4,244.2L513.3,245.7ZM507.6,235.5L510.7,248.8L498.9,246.0ZM474.6,207.9L461.2,211.1L463.9,199.3ZM498.4,234.8L497.3,248.5L486.9,242.3ZM509.2,235.3L513.0,248.5L501.1,246.3ZM484.1,227.3L476.2,238.5L470.4,227.9ZM531.9,190.5L542.9,182.4L545.1,194.3ZM482.1,225.3L473.3,235.7L468.4,224.6ZM533.5,216.1L546.8,219.3L539.1,228.6ZM485.7,181.3L475.6,172.0L486.9,167.7ZM477.4,218.1L465.9,225.7L464.4,213.7ZM491.6,232.5L487.4,245.5L478.7,237.1ZM504.3,235.6L506.0,249.2L494.6,245.2ZM495.5,234.1L493.1,247.6L483.4,240.4ZM528.8,224.2L540.5,231.3L530.4,237.9ZM525.5,227.6L536.1,236.4L525.0,241.3ZM494.1,233.6L491.0,246.9L481.6,239.3ZM474.5,207.3L461.1,210.3L464.0,198.5ZM478.9,220.9L468.3,229.6L465.5,217.8ZM485.6,228.7L478.5,240.4L472.0,230.2ZM444.1,136.8L457.8,137.3L452.1,148.0ZM414.5,162.1L416.6,175.6L405.0,172.0ZM424.8,160.1L431.4,172.1L419.3,172.7ZM429.1,158.1L437.5,168.9L425.7,171.3ZM436.6,152.1L448.0,159.8L437.4,165.7ZM395.2,155.6L388.4,167.5L381.6,157.5ZM399.2,158.2L394.3,171.0L386.0,162.2ZM422.5,160.9L428.1,173.4L416.0,173.0ZM401.4,159.4L397.6,172.5L388.7,164.4ZM433.3,155.2L443.4,164.5L432.1,168.8ZM399.1,158.2L394.2,171.0L386.0,162.1ZM439.7,148.1L452.1,153.8L442.7,161.4ZM407.8,161.4L407.0,175.1L396.5,169.1ZM434.0,154.6L444.4,163.6L433.2,168.3ZM411.1,161.9L411.7,175.6L400.6,170.8ZM671.1,207.5L663.4,196.2L675.3,194.5ZM656.4,247.1L644.8,254.3L643.6,242.3ZM671.1,262.5L666.9,275.5L658.2,267.1ZM655.6,244.9L643.4,251.2L643.2,239.1ZM658.8,218.4L646.4,212.7L655.8,205.1ZM654.0,236.2L640.5,238.7L643.8,227.1ZM655.8,245.5L643.7,252.0L643.3,239.9ZM656.0,223.9L642.7,220.7L650.4,211.4ZM654.3,230.2L640.6,230.0L646.1,219.2ZM670.9,262.4L666.6,275.4L658.0,266.9ZM663.0,256.7L654.8,267.7L649.3,256.9ZM661.4,255.0L652.4,265.3L647.7,254.2ZM698.9,262.0L707.0,273.0L695.1,275.1ZM593.7,485.2L583.2,476.3L594.3,471.5ZM597.2,482.5L588.1,472.2L599.8,469.0ZM619.1,477.9L619.5,464.2L630.2,469.8ZM639.5,491.1L649.7,481.9L652.9,493.6ZM583.6,504.4L569.9,504.7L575.0,493.7ZM608.7,477.9L604.4,464.9L616.4,466.6ZM605.5,478.6L599.9,466.1L612.0,466.5ZM588.0,491.9L575.5,486.4L584.7,478.6ZM627.6,480.6L631.9,467.6L640.5,476.1ZM627.8,480.7L632.2,467.8L640.8,476.3ZM609.8,477.7L606.0,464.5L617.9,466.7ZM583.5,509.5L570.0,512.1L573.2,500.4ZM585.1,498.0L571.7,495.4L579.0,485.7ZM623.3,478.9L625.6,465.4L635.4,472.5ZM587.3,493.1L574.5,488.2L583.4,480.0ZM592.7,486.1L581.8,477.7L592.7,472.4ZM323.9,442.8L328.8,430.0L337.0,438.9ZM321.4,441.6L325.1,428.4L334.1,436.5ZM336.5,482.9L349.5,487.1L341.1,495.8ZM327.8,493.6L337.6,503.2L326.2,507.2ZM336.7,456.6L348.2,449.1L349.6,461.1ZM338.1,460.1L350.4,454.0L350.4,466.1ZM324.0,442.8L328.9,430.1L337.1,439.0ZM336.2,483.5L349.1,488.0L340.5,496.5ZM333.1,450.7L342.6,440.8L346.7,452.2ZM308.8,438.9L306.8,425.4L318.3,429.1ZM305.9,439.1L302.7,425.8L314.5,428.4ZM339.5,468.3L353.0,465.8L349.7,477.4ZM331.9,449.2L340.7,438.8L345.6,449.9ZM337.9,479.5L351.3,482.1L344.0,491.8ZM339.6,468.9L353.1,466.7L349.6,478.3ZM337.7,459.0L349.8,452.5L350.2,464.6ZM384.1,304.9L395.6,297.3L397.1,309.3ZM371.3,291.3L376.2,278.5L384.5,287.3ZM362.3,288.0L363.1,274.3L373.6,280.2ZM387.0,316.8L400.5,314.3L397.2,325.9ZM369.0,345.9L376.2,357.5L364.2,358.8ZM383.9,331.5L396.9,335.8L388.5,344.5ZM385.7,326.9L399.3,329.0L392.3,338.9ZM341.5,344.7L336.6,357.4L328.4,348.5ZM376.8,340.8L387.3,349.7L376.2,354.5ZM357.5,348.6L359.9,362.0L348.3,358.7ZM387.1,318.0L400.6,316.1L396.9,327.6ZM332.3,299.3L320.4,292.5L330.4,285.7ZM294.4,287.0L307.6,290.8L299.5,299.7ZM296.4,268.0L309.2,263.3L308.0,275.3ZM297.0,273.1L310.5,270.6L307.3,282.2ZM290.7,293.2L302.6,300.0L292.6,306.8ZM282.7,300.4L291.6,310.9L279.8,313.8ZM293.2,289.4L306.0,294.3L297.1,302.5ZM296.9,278.0L310.6,277.6L305.5,288.6ZM279.1,302.4L286.4,314.0L274.4,315.2ZM287.8,296.4L298.7,304.8L287.8,310.1ZM295.3,284.8L308.7,287.5L301.3,297.1ZM292.4,258.2L302.8,249.3L305.8,261.1ZM266.7,305.1L268.7,318.6L257.2,314.9ZM297.0,272.2L310.4,269.2L307.5,281.0ZM416.4,529.4L414.7,515.8L426.1,519.8ZM445.6,552.5L458.3,547.3L457.5,559.3ZM440.1,541.2L449.6,531.3L453.7,542.7ZM443.8,547.4L455.4,540.0L456.7,552.1ZM429.4,532.5L433.6,519.5L442.3,527.9ZM446.5,558.5L460.0,555.9L456.8,567.6ZM422.2,530.1L423.0,516.4L433.5,522.4ZM385.9,554.9L372.2,554.6L377.8,543.9ZM415.0,529.4L412.6,516.0L424.2,519.3ZM435.8,536.7L443.2,525.2L449.5,535.5ZM446.0,554.0L458.9,549.4L457.5,561.5ZM397.2,535.9L387.4,526.3L398.8,522.3ZM439.9,541.0L449.3,531.0L453.5,542.3ZM319.5,412.5L333.2,412.8L327.6,423.5ZM312.9,426.9L324.6,434.0L314.4,440.5ZM318.0,418.1L331.4,420.9L323.9,430.4ZM307.4,382.8L313.8,370.7L320.9,380.6ZM292.4,437.9L295.6,451.2L283.8,448.6ZM315.4,391.6L326.0,382.9L328.8,394.7ZM312.2,427.8L323.6,435.3L313.2,441.4ZM306.8,382.4L313.0,370.2L320.2,379.9ZM319.2,401.3L332.1,396.7L330.8,408.7ZM319.7,404.6L333.1,401.4L330.4,413.2ZM303.6,434.5L311.6,445.6L299.7,447.7ZM312.3,387.4L321.2,377.0L326.0,388.1ZM316.0,422.4L328.8,427.3L319.9,435.5ZM615.5,276.4L605.1,267.4L616.3,262.7ZM615.0,276.9L604.4,268.1L615.5,263.2ZM606.1,307.7L593.5,313.2L594.0,301.1ZM632.3,329.9L632.8,343.6L621.7,338.6ZM605.2,295.2L591.5,295.2L596.9,284.3ZM605.1,302.4L591.7,305.6L594.4,293.8ZM607.1,288.2L593.8,285.0L601.5,275.7ZM561.8,540.8L554.8,529.0L566.8,528.0ZM586.3,541.3L590.3,528.1L599.2,536.4ZM550.6,548.7L539.2,541.2L549.6,535.1ZM558.7,542.3L550.4,531.3L562.3,529.0ZM569.2,538.7L565.3,525.6L577.3,527.7ZM552.7,546.6L542.1,537.9L553.1,532.9ZM544.0,561.0L530.4,559.3L537.0,549.2ZM595.3,547.6L603.6,536.7L609.0,547.5ZM322.1,533.6L321.6,519.9L332.6,524.8ZM328.7,535.0L331.2,521.5L340.9,528.8ZM319.6,533.4L318.0,519.8L329.4,523.8ZM349.5,562.8L363.0,560.3L359.7,572.0ZM331.6,536.1L335.4,523.0L344.3,531.1ZM338.4,540.3L345.5,528.6L352.0,538.8ZM349.6,564.6L363.2,563.0L359.2,574.4ZM329.7,535.4L332.7,522.0L342.1,529.6ZM628.3,437.5L617.6,428.9L628.6,423.8ZM619.0,466.0L606.1,470.6L607.5,458.5ZM652.8,429.7L652.5,416.0L663.5,421.1ZM639.8,430.9L633.8,418.5L645.9,418.6ZM618.9,465.1L605.8,469.2L607.6,457.3ZM636.7,432.0L629.5,420.4L641.5,419.2ZM618.9,454.5L605.2,454.0L611.0,443.4ZM624.8,441.3L612.9,434.5L623.0,427.7ZM626.3,480.5L617.5,491.0L612.6,479.9ZM620.3,449.4L606.9,446.6L614.4,437.1ZM543.3,263.3L529.8,261.1L536.8,251.3ZM548.1,290.9L538.5,300.7L534.5,289.2ZM552.7,295.8L545.3,307.3L539.0,297.0ZM544.8,285.4L533.3,292.8L531.8,280.8ZM511.6,426.1L525.1,424.2L521.3,435.7ZM481.4,456.6L483.4,470.1L471.9,466.5ZM451.4,418.3L437.8,416.8L444.3,406.6ZM484.8,521.4L498.2,524.7L490.4,534.0ZM475.5,486.0L482.4,474.2L489.1,484.3ZM442.6,482.8L434.7,471.5L446.7,469.7ZM451.5,479.8L447.4,466.8L459.3,468.6ZM440.7,483.8L432.0,473.2L443.8,470.5ZM467.4,481.4L470.5,468.1L479.9,475.7ZM470.9,483.0L475.6,470.2L484.0,478.9ZM745.3,348.0L732.1,351.9L734.2,340.0ZM752.9,322.9L741.5,315.2L752.1,309.3ZM746.7,333.2L733.3,330.5L740.7,320.9ZM745.0,345.5L731.6,348.3L734.6,336.6ZM746.9,354.3L734.9,360.8L734.3,348.7ZM761.6,316.3L753.7,305.1L765.6,303.2ZM751.7,324.3L740.0,317.2L750.1,310.6ZM747.6,330.9L734.5,327.1L742.6,318.2ZM745.0,345.2L731.5,347.9L734.6,336.2ZM396.7,401.0L405.7,390.7L410.3,401.9ZM348.4,555.6L360.9,550.0L360.5,562.1ZM402.4,411.1L414.6,404.8L414.8,416.9ZM659.9,431.4L662.9,418.1L672.3,425.7ZM480.4,491.0L489.9,481.0L494.1,492.4ZM761.1,316.5L753.0,305.5L764.9,303.4ZM514.9,343.9L502.6,350.0L502.6,337.9ZM474.0,504.6L461.0,500.4L469.4,491.7ZM547.7,552.6L535.2,546.9L544.6,539.2ZM388.1,147.8L377.7,156.7L374.7,144.9ZM654.1,231.5L640.4,231.9L645.5,220.9ZM471.9,525.5L459.2,530.7L460.0,518.7ZM660.6,254.0L651.2,264.0L647.0,252.7ZM614.8,387.0L601.1,386.7L606.7,376.0ZM386.8,322.3L400.5,322.3L395.1,333.2ZM597.5,290.1L609.7,296.3L600.0,303.5ZM445.5,568.0L459.1,569.7L452.5,579.8ZM471.0,519.2L457.5,521.7L460.8,510.0ZM305.9,499.9L306.4,513.6L295.4,508.7ZM288.7,438.1L290.3,451.7L278.9,447.7ZM426.3,159.5L433.5,171.1L421.5,172.3ZM414.5,162.1L416.6,175.6L405.1,172.0ZM525.0,358.5L518.1,370.3L511.4,360.2ZM660.6,254.0L651.1,264.0L646.9,252.6ZM404.1,421.5L417.7,419.8L413.7,431.3ZM177.9,301.4L191.4,299.2L187.9,310.8ZM176.6,310.6L190.2,312.5L183.4,322.5ZM292.8,443.6L283.9,433.1L295.7,430.2ZM307.9,535.5L301.1,523.6L313.2,522.9ZM398.8,534.7L389.6,524.6L401.2,521.2ZM97.1,503.9L101.6,491.0L110.1,499.7ZM551.5,547.8L540.4,539.7L551.1,534.1ZM589.2,490.2L577.0,483.8L586.8,476.7ZM105.4,510.3L114.1,499.8L119.1,510.8ZM110.4,517.6L121.7,509.9L123.4,521.9ZM112.2,539.9L125.7,542.0L118.8,551.9ZM260.4,417.5L248.2,423.7L248.0,411.6ZM329.0,331.4L317.7,339.1L316.0,327.1ZM477.5,218.3L466.1,225.9L464.5,213.9ZM344.6,194.4L358.1,196.7L351.0,206.5ZM475.9,195.6L462.4,193.3L469.5,183.5ZM353.7,287.6L350.5,274.2L362.3,276.9ZM316.0,439.7L317.2,426.1L327.5,432.4ZM318.8,498.4L325.0,510.7L312.9,510.8ZM418.2,590.5L421.1,603.9L409.4,601.0ZM487.7,712.9L495.9,702.0L501.4,712.7ZM487.7,713.0L496.0,702.0L501.4,712.8ZM463.9,704.1L461.0,690.7L472.7,693.6ZM487.9,713.2L496.3,702.3L501.6,713.2ZM592.4,529.6L584.1,540.6L578.7,529.8ZM298.0,436.8L303.7,449.3L291.6,448.9ZM629.4,122.5L642.7,119.3L640.1,131.1ZM754.7,69.8L741.4,73.0L744.0,61.2ZM760.4,84.8L750.6,94.4L746.8,82.9ZM755.5,74.4L742.8,79.6L743.6,67.5ZM568.7,316.5L578.5,306.9L582.3,318.4ZM400.3,406.3L411.2,398.0L413.5,409.9ZM385.5,245.5L398.4,240.9L397.0,252.9ZM662.6,367.0L668.9,354.8L676.1,364.5ZM522.8,496.0L530.8,484.9L536.5,495.6ZM534.6,197.4L547.3,192.2L546.5,204.3ZM395.9,156.2L389.5,168.3L382.4,158.4ZM338.0,276.6L331.8,288.8L324.6,279.1ZM348.8,570.9L362.4,572.1L356.2,582.4Z"/>
<g transform="translate(355.5,251.5)"><circle r="19" fill="#8c564b"/><text x="0" y="-19.2">Cole Anthony</text></g>
<g transform="translate(266.5,274.5)"><circle r="19" fill="#8c564b"/><text x="0" y="-19.2">Gary Clark</text></g>
<g transform="translate(147.3,302.0)"><circle r="19" fill="#d62728"/><text x="0" y="-19.2">Robert Franks</text></g>
<g transform="translate(315.5,185.0)"><circle r="19" fill="#e377c2"/><text x="0" y="-19.2">Karim Mane</text></g>
<g transform="translate(414.0,131.5)"><circle r="19" fill="#ff7f0e"/><text x="0" y="-19.2">Chuma Okeke</text></g>
<g transform="translate(599.0,125.5)"><circle r="19" fill="#9467bd"/><text x="0" y="-19.2">Nikola Vucevic</text></g>
<g transform="translate(785.1,66.8)"><circle r="19" fill="#7f7f7f"/><text x="0" y="-19.2">Markelle Fultz</text></g>
<g transform="translate(505.0,205.0)"><circle r="19" fill="#1f77b4"/><text x="0" y="-19.2">Dwayne Bacon</text></g>
<g transform="translate(684.5,235.0)"><circle r="19" fill="#2ca02c"/><text x="0" y="-19.2">Khem Birch</text></g>
<g transform="translate(572.5,272.5)"><circle r="19" fill="#7f7f7f"/><text x="0" y="-19.2">Sindarius Thornwell</text></g>
<g transform="translate(356.5,318.0)"><circle r="19" fill="#7f7f7f"/><text x="0" y="-19.2">Chasson Randle</text></g>
<g transform="translate(544.0,334.5)"><circle r="19" fill="#1f77b4"/><text x="0" y="-19.2">Evan Fournier</text></g>
<g transform="translate(635.5,299.5)"><circle r="19" fill="#2ca02c"/><text x="0" y="-19.2">Gary Harris</text></g>
<g transform="translate(775.5,343.5)"><circle r="19" fill="#2ca02c"/><text x="0" y="-19.2">Al-Farouq Aminu</text></g>
<g transform="translate(645.0,392.0)"><circle r="19" fill="#ff7f0e"/><text x="0" y="-19.2">Terrence Ross</text></g>
<g transform="translate(289.3,407.5)"><circle r="19" fill="#17becf"/><text x="0" y="-19.2">Wendell Carter Jr.</text></g>
<g transform="translate(373.5,421.0)"><circle r="19" fill="#bcbd22"/><text x="0" y="-19.2">Aaron Gordon</text></g>
<g transform="translate(481.0,426.0)"><circle r="19" fill="#e377c2"/><text x="0" y="-19.2">Frank Mason</text></g>
<g transform="translate(649.0,460.0)"><circle r="19" fill="#e377c2"/><text x="0" y="-19.2">Ignas Brazdeikis</text></g>
<g transform="translate(309.0,469.5)"><circle r="19" fill="#9467bd"/><text x="0" y="-19.2">Mo Bamba</text></g>
<g transform="translate(456.5,510.0)"><circle r="19" fill="#d62728"/><text x="0" y="-19.2">Jordan Bone</text></g>
<g transform="translate(501.5,518.0)"><circle r="19" fill="#d62728"/><text x="0" y="-19.2">Michael Carter-Williams</text></g>
<g transform="translate(614.0,508.0)"><circle r="19" fill="#17becf"/><text x="0" y="-19.2">James Ennis III</text></g>
<g transform="translate(416.0,560.0)"><circle r="19" fill="#1f77b4"/><text x="0" y="-19.2">R.J. Hampton</text></g>
<g transform="translate(82.9,531.0)"><circle r="19" fill="#ff7f0e"/><text x="0" y="-19.2">Devin Cannady</text></g>
<g transform="translate(319.0,564.0)"><circle r="19" fill="#9467bd"/><text x="0" y="-19.2">Donta Hall</text></g>
<g transform="translate(573.5,569.0)"><circle r="19" fill="#8c564b"/><text x="0" y="-19.2">Moritz Wagner</text></g>
<g transform="translate(466.1,734.6)"><circle r="19" fill="#bcbd22"/><text x="0" y="-19.2">Otto Porter Jr.</text></g>
<text x="645.5" y="360" style="font-size:17px">L</text>
</svg>
<div id="tip">
<div><b>Markelle Fultz</b></div>
<div><b>Assists To:</b></div>
<div>Nikola Vucevic: 22</div>
<div>Evan Fournier: 4</div>
<div>Aaron Gordon: 11</div>
<div>Cole Anthony: 1</div>
<div>Terrence Ross: 1</div>
<div>Michael Carter–Williams: 3</div>
<div>Dwayne Bacon: 1</div>
<div><b>Assists From:</b></div>
<div>Nikola Vucevic: 2</div>
<div>Evan Fournier: 2</div>
<div>Dwayne Bacon: 1</div>
</div>
<div class="red" style="left:902px;top:33px;width:178px;height:55px;"></div>
<table>
<colgroup><col style="width:174px"><col style="width:176.5px"><col style="width:169px"><col style="width:100.5px"><col style="width:66.5px"><col style="width:69px"><col style="width:69px"><col style="width:77.5px"><col style="width:76px"><col style="width:62px"><col style="width:73.5px"></colgroup>
<thead>
<tr>
<th>Assist Player<svg class="si" viewBox="0 0 14 17"><path d="M7 0L14 7H0Z" fill="#555"/><path d="M0 10H14L7 17Z" fill="#555"/></svg></th>
<th>Scorer<svg class="si" viewBox="0 0 14 17"><path d="M7 0L14 7H0Z" fill="#555"/><path d="M0 10H14L7 17Z" fill="#555"/></svg></th>
<th>Team<svg class="si" viewBox="0 0 14 17"><path d="M7 0L14 7H0Z" fill="#555"/><path d="M0 10H14L7 17Z" fill="#555"/></svg></th>
<th class="n">Assists<svg class="si" viewBox="0 0 14 17"><path d="M7 0L14 7H0Z" fill="#555"/><path d="M0 10H14L7 17Z" fill="#3c8cf5"/></svg></th>
<th class="n">2pt<svg class="si" viewBox="0 0 14 17"><path d="M7 0L14 7H0Z" fill="#555"/><path d="M0 10H14L7 17Z" fill="#555"/></svg></th>
<th class="n">3pt<svg class="si" viewBox="0 0 14 17"><path d="M7 0L14 7H0Z" fill="#555"/><path d="M0 10H14L7 17Z" fill="#555"/></svg></th>
<th class="n">Rim<svg class="si" viewBox="0 0 14 17"><path d="M7 0L14 7H0Z" fill="#555"/><path d="M0 10H14L7 17Z" fill="#555"/></svg></th>
<th class="n">SMR<svg class="si" viewBox="0 0 14 17"><path d="M7 0L14 7H0Z" fill="#555"/><path d="M0 10H14L7 17Z" fill="#555"/></svg></th>
<th class="n">LMR<svg class="si" viewBox="0 0 14 17"><path d="M7 0L14 7H0Z" fill="#555"/><path d="M0 10H14L7 17Z" fill="#555"/></svg></th>
<th class="n">C3<svg class="si" viewBox="0 0 14 17"><path d="M7 0L14 7H0Z" fill="#555"/><path d="M0 10H14L7 17Z" fill="#555"/></svg></th>
<th class="n">AB3<svg class="si" viewBox="0 0 14 17"><path d="M7 0L14 7H0Z" fill="#555"/><path d="M0 10H14L7 17Z" fill="#555"/></svg></th>
</tr>
<tr class="f"><td><div class="inp">fultz</div></td><td><div class="inp p">Search</div></td><td><div class="inp p" style="width:142px">Search</div></td><td></td><td></td><td></td><td></td><td></td><td></td><td></td><td></td></tr>
</thead>
<tbody>
<tr class="r o"><td>Markelle Fultz</td><td>Nikola Vucevic</td><td>ORL</td><td class="n">22</td><td class="n">12</td><td class="n">10</td><td class="n">3</td><td class="n">7</td><td class="n">2</td><td class="n">0</td><td class="n">10</td></tr>
<tr class="r"><td>Markelle Fultz</td><td>Aaron Gordon</td><td>ORL</td><td class="n">11</td><td class="n">8</td><td class="n">3</td><td class="n">5</td><td class="n">2</td><td class="n">1</td><td class="n">0</td><td class="n">3</td></tr>
<tr class="r o"><td>Markelle Fultz</td><td>Evan Fournier</td><td>ORL</td><td class="n">4</td><td class="n">2</td><td class="n">2</td><td class="n">1</td><td class="n">1</td><td class="n">0</td><td class="n">0</td><td class="n">2</td></tr>
<tr class="r t"><td>Markelle Fultz</td><td>Michael Carter-<br>Williams</td><td>ORL</td><td class="n">3</td><td class="n">3</td><td class="n">0</td><td class="n">1</td><td class="n">2</td><td class="n">0</td><td class="n">0</td><td class="n">0</td></tr>
<tr class="r o"><td>Markelle Fultz</td><td>Terrence Ross</td><td>ORL</td><td class="n">1</td><td class="n">1</td><td class="n">0</td><td class="n">1</td><td class="n">0</td><td class="n">0</td><td class="n">0</td><td class="n">0</td></tr>
<tr class="r"><td>Markelle Fultz</td><td>Dwayne Bacon</td><td>ORL</td><td class="n">1</td><td class="n">0</td><td class="n">1</td><td class="n">0</td><td class="n">0</td><td class="n">0</td><td class="n">1</td><td class="n">0</td></tr>
<tr class="r o"><td>Markelle Fultz</td><td>Cole Anthony</td><td>ORL</td><td class="n">1</td><td class="n">0</td><td class="n">1</td><td class="n">0</td><td class="n">0</td><td class="n">0</td><td class="n">0</td><td class="n">1</td></tr>
</tbody>
</table>
<div class="red" style="left:22px;top:897.5px;width:1110px;height:52px;"></div>
<div class="red" style="left:703.5px;top:774px;width:72.5px;height:511px;"></div>

<div id="shade"></div>
</body>
</html>
